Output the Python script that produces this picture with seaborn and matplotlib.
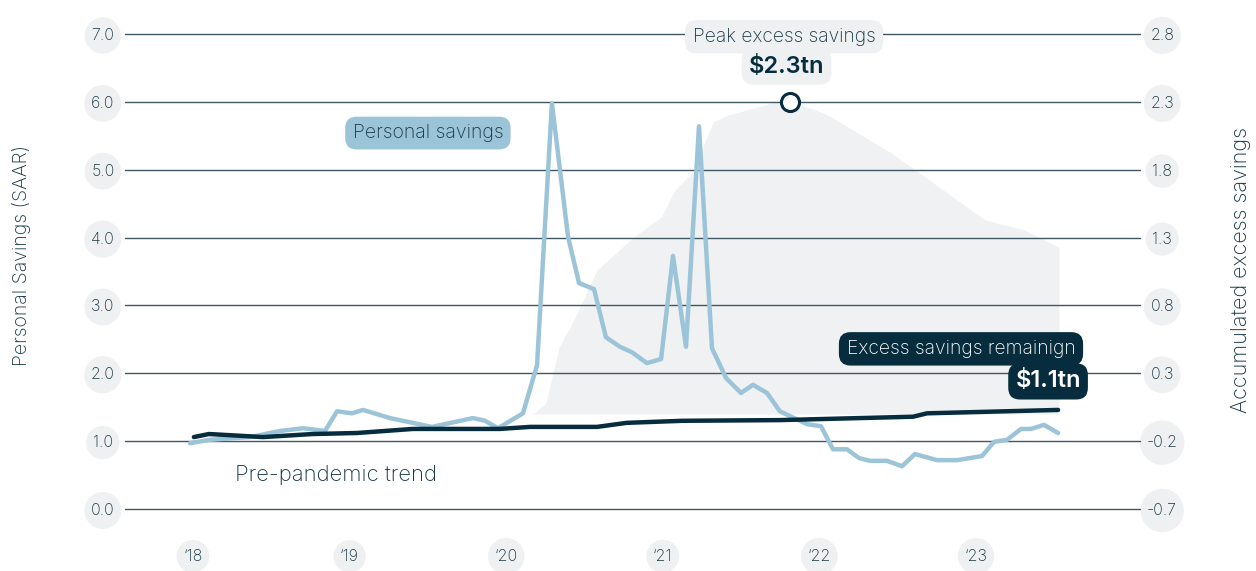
import matplotlib
matplotlib.use("Agg")
import matplotlib.pyplot as plt
import seaborn as sns
import pandas as pd

# ---------------- data ----------------
# Personal savings (left axis), x in decimal years
savings_x = [2017.981, 2018.109, 2018.364, 2018.556, 2018.702, 2018.843, 2018.920,
             2019.015, 2019.086, 2019.258, 2019.526, 2019.788, 2019.865, 2019.948,
             2020.107, 2020.197, 2020.292, 2020.395, 2020.465, 2020.561, 2020.637,
             2020.727, 2020.803, 2020.899, 2020.989, 2021.065, 2021.148, 2021.231,
             2021.314, 2021.404, 2021.499, 2021.576, 2021.665, 2021.748, 2021.921,
             2022.010, 2022.087, 2022.176, 2022.253, 2022.323, 2022.432, 2022.527,
             2022.610, 2022.751, 2022.879, 2023.038, 2023.115, 2023.198, 2023.287,
             2023.351, 2023.434, 2023.524]
savings_y = [0.97, 1.02, 1.06, 1.15, 1.19, 1.15, 1.44,
             1.41, 1.46, 1.34, 1.21, 1.34, 1.30, 1.19,
             1.41, 2.12, 5.98, 4.01, 3.33, 3.24, 2.53,
             2.39, 2.31, 2.15, 2.21, 3.73, 2.39, 5.64,
             2.37, 1.93, 1.71, 1.83, 1.71, 1.44, 1.25,
             1.22, 0.88, 0.88, 0.75, 0.71, 0.71, 0.63,
             0.81, 0.72, 0.72, 0.78, 0.99, 1.02, 1.18,
             1.18, 1.24, 1.12]

# Pre-pandemic trend (left axis)
trend_x = [2018.006, 2018.102, 2018.447, 2018.766, 2019.047, 2019.405, 2019.960,
           2020.152, 2020.580, 2020.771, 2021.129, 2021.748, 2022.598, 2022.687,
           2023.524]
trend_y = [1.06, 1.105, 1.06, 1.105, 1.12, 1.18, 1.18,
           1.21, 1.21, 1.27, 1.30, 1.31, 1.36, 1.41,
           1.46]

# Accumulated excess savings (right axis, $tn)
excess_x = [2020.171, 2020.254, 2020.337, 2020.439, 2020.580, 2020.810, 2020.989,
            2021.078, 2021.187, 2021.321, 2021.410, 2021.691, 2021.825, 2022.023,
            2022.087, 2022.464, 2023.057, 2023.121, 2023.300, 2023.530]
excess_y = [0.0, 0.08, 0.49, 0.71, 1.06, 1.30, 1.45,
            1.65, 1.78, 2.15, 2.20, 2.29, 2.30, 2.22,
            2.18, 1.92, 1.43, 1.41, 1.36, 1.23]

peak_x, peak_y = 2021.81, 2.30

left_ticks = [0.0, 1.0, 2.0, 3.0, 4.0, 5.0, 6.0, 7.0]
right_ticks = [-0.7, -0.2, 0.3, 0.8, 1.3, 1.8, 2.3, 2.8]
year_ticks = [2018, 2019, 2020, 2021, 2022, 2023]
year_labels = ["\u201818", "\u201819", "\u201820", "\u201821", "\u201822", "\u201823"]

# ---------------- style ----------------
sns.set_theme(style="white")
plt.rcParams["font.family"] = ["Inter", "DejaVu Sans"]
plt.rcParams["font.weight"] = "light"

DARK = "#062c3d"
TEXT = "#173845"
BLUE = "#9cc4d8"
AREA = "#f0f1f3"
GRID = "#3f5663"
CIRC = "#eff0f1"

fig = plt.figure(figsize=(12.56, 5.71), dpi=100)
ax = fig.add_axes([125 / 1256, 62 / 571, 1015 / 1256, 475 / 571])
ax2 = ax.twinx()
ax.set_zorder(ax2.get_zorder() + 1)
ax.patch.set_visible(False)

# area on right axis
ax2.fill_between(excess_x, 0, excess_y, color=AREA, lw=0)
ax2.set_ylim(-0.7, 2.8)

# lines on left axis
df_s = pd.DataFrame({"x": savings_x, "y": savings_y})
df_t = pd.DataFrame({"x": trend_x, "y": trend_y})
sns.lineplot(data=df_s, x="x", y="y", ax=ax, color=BLUE, lw=3.2, zorder=3,
             estimator=None, sort=False)
sns.lineplot(data=df_t, x="x", y="y", ax=ax, color=DARK, lw=3.2, zorder=4,
             estimator=None, sort=False)

ax.set_xlim(2017.566, 2024.047)
ax.set_ylim(0, 7)

# peak marker (right-axis data drawn above gridlines)
ax.plot([peak_x], [peak_y], transform=ax2.transData, marker="o", ms=13,
        mfc="white", mec=DARK, mew=2.2, zorder=6, clip_on=False)

# grid
ax.set_yticks(left_ticks, labels=[f"{v:.1f}" for v in left_ticks])
ax.grid(axis="y", color=GRID, lw=1.0)
ax.grid(axis="x", visible=False)
ax.set_axisbelow(True)
for gl in ax.get_ygridlines():
    gl.set_clip_on(False)
ax2.set_yticks(right_ticks, labels=[f"{v:.1f}" for v in right_ticks])
ax2.grid(False)
ax.set_xticks(year_ticks, labels=year_labels)

for a in (ax, ax2):
    for s in a.spines.values():
        s.set_visible(False)
    a.set_xlabel("")
    a.set_ylabel("")

ax.tick_params(axis="y", length=0, pad=16, labelsize=11.5, labelcolor=TEXT)
ax2.tick_params(axis="y", length=0, pad=16, labelsize=11.5, labelcolor=TEXT)
ax.tick_params(axis="x", length=0, pad=34, labelsize=11.5, labelcolor=TEXT)

circle = dict(boxstyle="circle,pad=0.42", fc=CIRC, ec="none")
for lab in ax.get_yticklabels():
    lab.set_ha("center")
    lab.set_bbox(circle)
for lab in ax2.get_yticklabels():
    lab.set_ha("center")
    lab.set_bbox(circle)
for lab in ax.get_xticklabels():
    lab.set_va("center")
    lab.set_bbox(circle)

# axis titles
fig.text(22 / 1256, 1 - 255 / 571, "Personal Savings (SAAR)", rotation=90,
         ha="center", va="center", fontsize=14, color=TEXT)
fig.text(1241 / 1256, 1 - 270 / 571, "Accumulated excess savings", rotation=90,
         ha="center", va="center", fontsize=15.5, color=TEXT)

# annotations
ax.text(2019.50, 5.54, "Personal savings", ha="center", va="center",
        fontsize=14, color=TEXT, zorder=7,
        bbox=dict(boxstyle="round,pad=0.38,rounding_size=0.6", fc=BLUE, ec="none"))
ax.text(2021.774, 6.96, "Peak excess savings", ha="center", va="center",
        fontsize=13.8, color=TEXT, zorder=7, clip_on=False,
        bbox=dict(boxstyle="round,pad=0.4,rounding_size=0.6", fc=CIRC, ec="none"))
ax.text(2021.79, 6.52, "$2.3tn", ha="center", va="center",
        fontsize=17, fontweight="semibold", color=DARK, zorder=7,
        bbox=dict(boxstyle="round,pad=0.3,rounding_size=0.5", fc=CIRC, ec="none"))
ax.text(2022.904, 2.36, "Excess savings remainign", ha="center", va="center",
        fontsize=13.9, color="white", zorder=7,
        bbox=dict(boxstyle="round,pad=0.4,rounding_size=0.6", fc=DARK, ec="none"))
ax.text(2023.46, 1.88, "$1.1tn", ha="center", va="center",
        fontsize=17, fontweight="semibold", color="white", zorder=7,
        bbox=dict(boxstyle="round,pad=0.3,rounding_size=0.5", fc=DARK, ec="none"))
ax.text(2018.268, 0.50, "Pre-pandemic trend", ha="left", va="center",
        fontsize=15.9, color=TEXT, zorder=7)

fig.savefig("out.png", dpi=100)
